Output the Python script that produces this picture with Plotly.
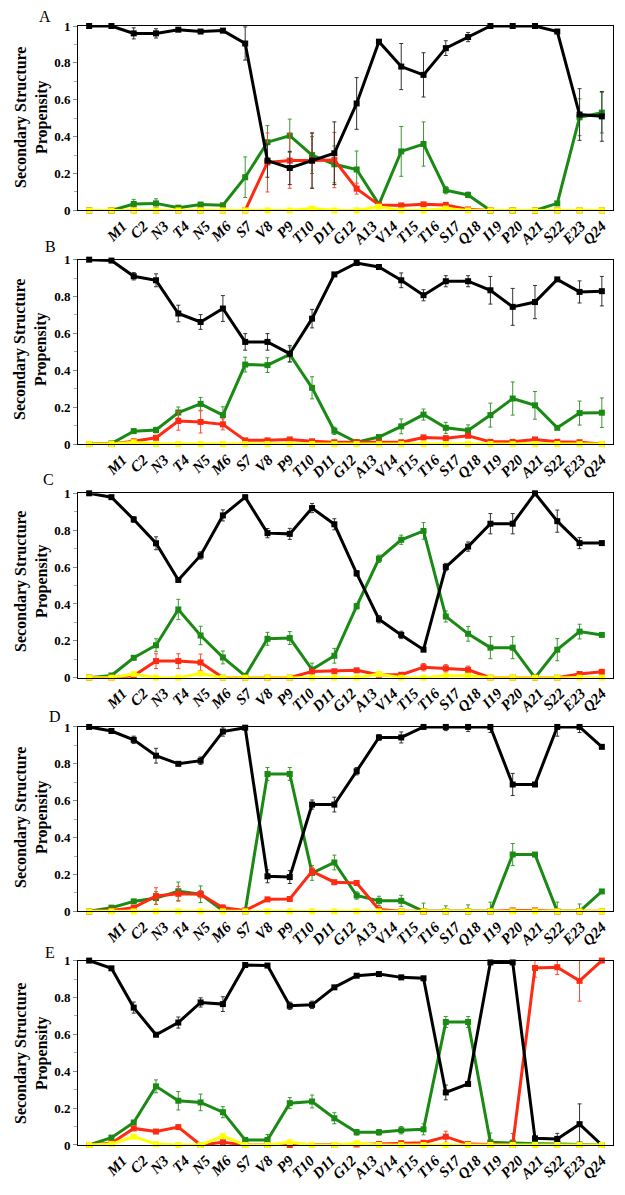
import plotly.graph_objects as go
from plotly.subplots import make_subplots

# residue labels along the x axis
RESIDUES = ["M1", "C2", "N3", "T4", "N5", "M6", "S7", "V8", "P9", "T10", "D11", "G12",
            "A13", "V14", "T15", "T16", "S17", "Q18", "I19", "P20", "A21", "S22", "E23", "Q24"]
PANELS = ["A", "B", "C", "D", "E"]

# ---- panel A ----
black_A = [1.00, 1.00, 0.96, 0.96, 0.98, 0.97, 0.975, 0.905, 0.27, 0.23, 0.27, 0.31,
           0.58, 0.915, 0.78, 0.735, 0.88, 0.94, 1.00, 1.00, 1.00, 0.97, 0.52, 0.51]
black_A_err = [0, 0, 0.03, 0.025, 0.01, 0.01, 0.01, 0.09, 0.09, 0.09, 0.15, 0.17,
               0.14, 0.01, 0.125, 0.12, 0.04, 0.025, 0, 0, 0, 0, 0.14, 0.135]
green_A = [0, 0, 0.035, 0.038, 0.015, 0.032, 0.028, 0.18, 0.37, 0.405, 0.30, 0.25,
           0.222, 0.033, 0.32, 0.36, 0.11, 0.084, 0, 0, 0, 0.038, 0.505, 0.53]
green_A_err = [0, 0, 0.025, 0.025, 0.005, 0.005, 0.005, 0.11, 0.09, 0.09, 0.10, 0.10,
               0.10, 0.005, 0.135, 0.12, 0.02, 0.015, 0, 0, 0, 0.005, 0.10, 0.11]
red_A = [0, 0, 0, 0, 0, 0, 0, 0, 0.26, 0.27, 0.27, 0.273,
         0.118, 0.03, 0.027, 0.033, 0.03, 0.005, 0, 0, 0, 0, 0, 0]
red_A_err = [0, 0, 0, 0, 0, 0, 0, 0, 0.16, 0.15, 0.15, 0.15,
             0.03, 0.005, 0.005, 0.005, 0.005, 0, 0, 0, 0, 0, 0, 0]
yellow_A = [0, 0, 0, 0, 0, 0, 0, 0, 0, 0, 0.01, 0,
            0, 0.02, 0, 0, 0.01, 0, 0, 0, 0, 0, 0, 0]

# ---- panel B ----
black_B = [1.00, 0.995, 0.91, 0.888, 0.708, 0.662, 0.735, 0.554, 0.554, 0.49, 0.68, 0.92,
           0.982, 0.96, 0.888, 0.807, 0.883, 0.883, 0.834, 0.744, 0.77, 0.893, 0.825, 0.829]
black_B_err = [0, 0, 0.02, 0.035, 0.045, 0.04, 0.07, 0.045, 0.045, 0.045, 0.05, 0.01,
               0.005, 0.005, 0.04, 0.03, 0.03, 0.03, 0.075, 0.10, 0.09, 0.01, 0.06, 0.08]
green_B = [0, 0.003, 0.07, 0.076, 0.171, 0.218, 0.157, 0.431, 0.428, 0.486, 0.305, 0.072,
           0.01, 0.038, 0.096, 0.16, 0.088, 0.074, 0.157, 0.247, 0.21, 0.088, 0.168, 0.17]
green_B_err = [0, 0, 0.012, 0.015, 0.03, 0.035, 0.045, 0.04, 0.04, 0.04, 0.06, 0.02,
               0.005, 0.005, 0.04, 0.03, 0.03, 0.03, 0.065, 0.09, 0.075, 0.005, 0.065, 0.08]
red_B = [0, 0, 0.015, 0.034, 0.125, 0.12, 0.107, 0.02, 0.02, 0.025, 0.015, 0.01,
         0.01, 0.01, 0.01, 0.036, 0.032, 0.045, 0.012, 0.012, 0.025, 0.012, 0.01, 0]
red_B_err = [0, 0, 0.005, 0.01, 0.05, 0.06, 0.03, 0.005, 0.005, 0.005, 0.005, 0,
             0, 0, 0, 0.01, 0.01, 0.01, 0, 0, 0.005, 0, 0, 0]
yellow_B = [0, 0, 0.01, 0, 0, 0, 0, 0, 0, 0, 0, 0,
            0, 0, 0, 0, 0, 0, 0, 0, 0, 0, 0, 0]

# ---- panel C ----
black_C = [1.00, 0.979, 0.858, 0.729, 0.53, 0.663, 0.88, 0.979, 0.784, 0.78, 0.92, 0.832,
           0.566, 0.317, 0.232, 0.152, 0.60, 0.711, 0.835, 0.835, 1.00, 0.849, 0.73, 0.73]
black_C_err = [0, 0, 0.015, 0.035, 0.005, 0.02, 0.03, 0.005, 0.025, 0.03, 0.025, 0.03,
               0.015, 0.02, 0.02, 0.01, 0.02, 0.025, 0.055, 0.055, 0, 0.06, 0.03, 0]
green_C = [0, 0.012, 0.108, 0.176, 0.37, 0.229, 0.11, 0.01, 0.211, 0.215, 0.044, 0.119,
           0.388, 0.645, 0.748, 0.796, 0.332, 0.238, 0.163, 0.163, 0, 0.152, 0.25, 0.232]
green_C_err = [0, 0, 0.01, 0.035, 0.055, 0.05, 0.035, 0.005, 0.035, 0.035, 0.035, 0.04,
               0.015, 0.02, 0.025, 0.045, 0.03, 0.04, 0.06, 0.06, 0, 0.06, 0.04, 0]
red_C = [0, 0, 0.01, 0.09, 0.09, 0.083, 0, 0, 0, 0, 0.034, 0.035,
         0.04, 0.016, 0.016, 0.057, 0.051, 0.043, 0, 0, 0, 0, 0.02, 0.032]
red_C_err = [0, 0, 0, 0.04, 0.04, 0.045, 0, 0, 0, 0, 0.005, 0.005,
             0.005, 0.005, 0.005, 0.02, 0.02, 0.02, 0, 0, 0, 0, 0, 0]
yellow_C = [0, 0, 0.02, 0, 0, 0.022, 0, 0, 0, 0, 0, 0,
            0, 0.02, 0, 0, 0.01, 0.01, 0, 0, 0, 0, 0, 0]

# ---- panel D ----
black_D = [1.00, 0.978, 0.93, 0.844, 0.80, 0.817, 0.975, 0.996, 0.19, 0.186, 0.579, 0.579,
           0.76, 0.943, 0.943, 1.00, 1.00, 1.00, 1.00, 0.688, 0.688, 1.00, 1.00, 0.892]
black_D_err = [0, 0, 0.02, 0.04, 0.005, 0.02, 0.025, 0, 0.035, 0.035, 0.025, 0.04,
               0.02, 0.015, 0.03, 0.01, 0.02, 0.025, 0.03, 0.06, 0, 0.05, 0.03, 0]
green_D = [0, 0.02, 0.054, 0.072, 0.109, 0.093, 0.005, 0, 0.745, 0.745, 0.208, 0.265,
           0.086, 0.057, 0.057, 0, 0, 0, 0, 0.308, 0.308, 0, 0, 0.108]
green_D_err = [0, 0, 0.005, 0.035, 0.05, 0.045, 0.01, 0, 0.035, 0.035, 0.04, 0.04,
               0.02, 0.025, 0.03, 0.045, 0.03, 0.035, 0.05, 0.06, 0, 0.05, 0.04, 0]
red_D = [0, 0.005, 0.02, 0.083, 0.095, 0.093, 0.02, 0.005, 0.065, 0.067, 0.217, 0.158,
         0.154, 0.01, 0, 0, 0, 0, 0, 0.005, 0.005, 0, 0, 0]
red_D_err = [0, 0, 0, 0.045, 0.04, 0.02, 0.015, 0, 0, 0, 0.02, 0,
             0, 0, 0, 0, 0, 0, 0, 0, 0, 0, 0, 0]
yellow_D = [0] * 24

# ---- panel E ----
black_E = [1.00, 0.958, 0.745, 0.598, 0.664, 0.773, 0.764, 0.976, 0.973, 0.755, 0.76, 0.855,
           0.918, 0.927, 0.909, 0.904, 0.285, 0.331, 0.99, 0.99, 0.036, 0.033, 0.113, 0]
black_E_err = [0, 0, 0.03, 0.005, 0.03, 0.025, 0.04, 0, 0, 0.02, 0.02, 0.005,
               0.005, 0.005, 0.005, 0, 0.04, 0.005, 0, 0, 0.01, 0.03, 0.11, 0]
green_E = [0, 0.04, 0.122, 0.318, 0.24, 0.231, 0.178, 0.027, 0.027, 0.227, 0.236, 0.145,
           0.069, 0.069, 0.08, 0.085, 0.667, 0.667, 0.015, 0.013, 0.007, 0.005, 0.003, 0]
green_E_err = [0, 0, 0.01, 0.035, 0.05, 0.045, 0.03, 0, 0.03, 0.03, 0.035, 0.03,
               0.015, 0.015, 0.02, 0.03, 0.03, 0.03, 0.05, 0.05, 0, 0, 0, 0]
red_E = [0, 0.01, 0.09, 0.073, 0.097, 0, 0.015, 0, 0, 0, 0, 0,
         0.003, 0.005, 0.01, 0.012, 0.045, 0.005, 0.003, 0, 0.96, 0.964, 0.89, 1.00]
red_E_err = [0, 0, 0, 0, 0, 0, 0, 0, 0, 0, 0, 0,
             0, 0, 0, 0, 0.03, 0, 0, 0, 0.05, 0.04, 0.11, 0]
yellow_E = [0, 0.005, 0.045, 0.005, 0, 0, 0.048, 0, 0, 0.015, 0, 0,
            0.01, 0, 0, 0, 0, 0, 0, 0, 0, 0, 0, 0]

COLORS = {"black": "#000000", "green": "#1a8a14", "red": "#ff2a12", "yellow": "#ffff00"}
ERR_COLORS = {"black": "#333333", "green": "#3a9a30", "red": "#ff4a30", "yellow": "#e6e600"}

series = {
    "A": {"green": (green_A, green_A_err), "red": (red_A, red_A_err),
          "black": (black_A, black_A_err), "yellow": (yellow_A, None)},
    "B": {"green": (green_B, green_B_err), "red": (red_B, red_B_err),
          "black": (black_B, black_B_err), "yellow": (yellow_B, None)},
    "C": {"green": (green_C, green_C_err), "red": (red_C, red_C_err),
          "black": (black_C, black_C_err), "yellow": (yellow_C, None)},
    "D": {"green": (green_D, green_D_err), "red": (red_D, red_D_err),
          "black": (black_D, black_D_err), "yellow": (yellow_D, None)},
    "E": {"green": (green_E, green_E_err), "red": (red_E, red_E_err),
          "black": (black_E, black_E_err), "yellow": (yellow_E, None)},
}

x = list(range(len(RESIDUES)))
# labels in the original sit a little to the right of their points and drift
tick_pos = [1.5 + i * 21.5 / 23 for i in range(len(RESIDUES))]

fig = make_subplots(rows=5, cols=1, vertical_spacing=0.044)

for row, panel in enumerate(PANELS, start=1):
    for color, (vals, errs) in series[panel].items():
        err = None
        if errs is not None:
            err = dict(type="data", array=errs, visible=True, thickness=1, width=2,
                       color=ERR_COLORS[color])
        fig.add_trace(
            go.Scatter(
                x=x, y=vals, mode="lines+markers", name=f"{panel} {color}",
                line=dict(color=COLORS[color], width=3),
                marker=dict(symbol="square", size=6, color=COLORS[color]),
                error_y=err, cliponaxis=False, showlegend=False,
            ),
            row=row, col=1,
        )

axis_font = dict(family="Liberation Serif", size=13, color="black", weight="bold")

for row in range(1, 6):
    suffix = "" if row == 1 else str(row)
    fig.layout["xaxis" + suffix].update(
        range=[-0.5, 23.5], tickmode="array", tickvals=tick_pos, ticktext=RESIDUES,
        tickangle=-45, ticks="", showgrid=False, zeroline=False,
        showline=True, linecolor="black", linewidth=1, mirror=True,
        tickfont=dict(family="Liberation Serif", size=15, color="black",
                      weight="bold", style="italic"),
    )
    fig.layout["yaxis" + suffix].update(
        range=[0, 1], dtick=0.2, showgrid=False, zeroline=False,
        showline=True, linecolor="black", linewidth=1, mirror=True,
        ticks="outside", ticklen=4, tickcolor="#888888",
        minor=dict(dtick=0.1, ticks="outside", ticklen=3, tickcolor="#aaaaaa"),
        tickfont=axis_font,
    )

# panel letters and y titles placed in pixels of the original layout
panel_top = [26, 258, 490, 726, 962]
letter_pos = [(45, 17), (50, 247), (48, 480), (55, 716), (50, 952)]
for panel, (px_x, px_y), top in zip(PANELS, letter_pos, panel_top):
    fig.add_annotation(
        text=panel, xref="paper", yref="paper", showarrow=False,
        x=(px_x - 78) / 535, y=1 - (px_y - 26) / 1119,
        xanchor="center", yanchor="middle",
        font=dict(family="Liberation Serif", size=16, color="black"),
    )
    fig.add_annotation(
        text="Secondary Structure<br>Propensity", xref="paper", yref="paper",
        showarrow=False, textangle=-90,
        x=(31 - 78) / 535, y=1 - (top + 92 - 26) / 1119,
        xanchor="center", yanchor="middle",
        font=dict(family="Liberation Serif", size=16, color="black", weight="bold"),
    )

# the page body adds an 8px offset, so the figure is 8px smaller on each axis
fig.update_layout(
    width=617, height=1187, autosize=False,
    margin=dict(l=70, r=12, t=18, b=50),
    plot_bgcolor="white", paper_bgcolor="white",
    showlegend=False,
)

fig.write_html("out.html")
